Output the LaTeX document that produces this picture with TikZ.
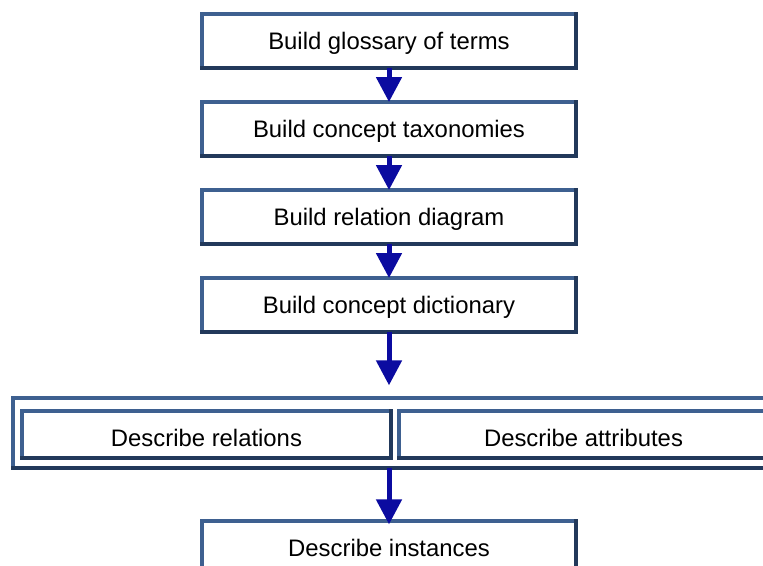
\documentclass[tikz,border=0pt]{standalone}
\usepackage{fontspec}
\setmainfont{Liberation Sans}
\usetikzlibrary{arrows.meta}
\definecolor{bordercol}{HTML}{3E6090}
\definecolor{shadecol}{HTML}{22395B}
\definecolor{arrowcol}{HTML}{0B0BA0}
\tikzset{
  stepbox/.style={draw=bordercol, line width=3pt, fill=white, rectangle,
    inner sep=0pt, outer sep=0pt, text height=12.9pt, text depth=0pt,
    font=\fontsize{17.9}{20}\selectfont},
  flow/.style={draw=arrowcol, line width=3.75pt,
    -{Triangle[width=18.75pt,length=18.75pt]}, arrowcol},
  shade/.style={draw=shadecol, line width=3pt, line cap=rect}
}
\begin{document}
\begin{tikzpicture}[x=0.75pt,y=-0.75pt]
\useasboundingbox (0,0) rectangle (763,565);
\node[stepbox, minimum width=280.5pt, minimum height=40.5pt] (b1) at (389,41) {Build glossary of terms};
\node[stepbox, minimum width=280.5pt, minimum height=40.5pt] (b2) at (389,129) {Build concept taxonomies};
\node[stepbox, minimum width=280.5pt, minimum height=40.5pt] (b3) at (389,217) {Build relation diagram};
\node[stepbox, minimum width=280.5pt, minimum height=40.5pt] (b4) at (389,305) {Build concept dictionary};
\node[stepbox, minimum width=573.75pt, minimum height=52.5pt] (outer) at (395.5,433) {};
\node[stepbox, minimum width=276.75pt, minimum height=35.25pt, text height=18.1pt] (rel) at (206.5,434.5) {Describe relations};
\node[stepbox, minimum width=276.75pt, minimum height=35.25pt, text height=18.1pt] (att) at (583.5,434.5) {Describe attributes};
\node[stepbox, minimum width=280.5pt, minimum height=40.5pt] (b6) at (389,548) {Describe instances};
% darker lower/right edges
\foreach \n in {b1,b2,b3,b4,outer,rel,att,b6}{
  \draw[shade] (\n.south west) -- (\n.south east) -- (\n.north east);
}
\draw[flow] (b1.south) -- (b2.north);
\draw[flow] (b2.south) -- (b3.north);
\draw[flow] (b3.south) -- (b4.north);
\draw[flow, shorten >=9.5pt] (b4.south) -- (b4.south |- outer.north);
\draw[flow, shorten >=-2.5pt] (b6.north |- outer.south) -- (b6.north);
\end{tikzpicture}
\end{document}
